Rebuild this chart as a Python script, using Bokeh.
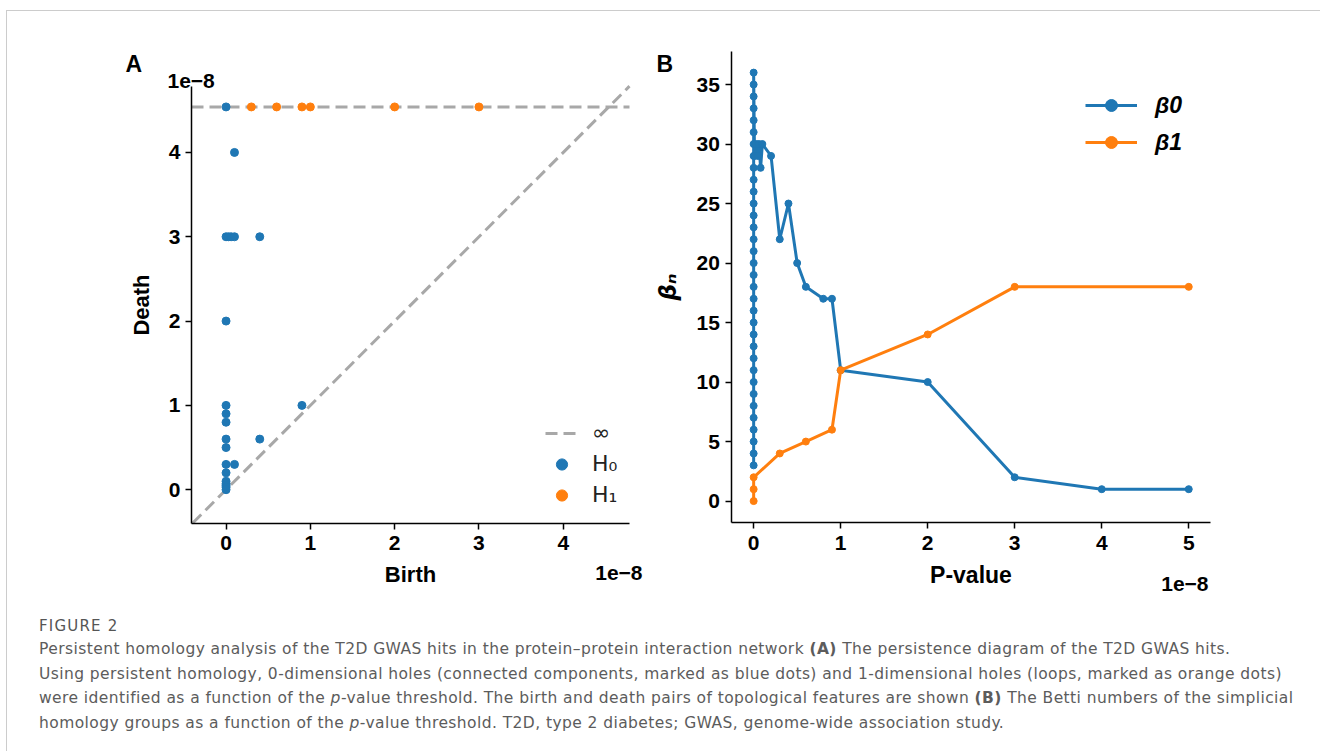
from bokeh.plotting import figure
from bokeh.models import Label, Legend, LegendItem, Div, FixedTicker, Range1d
from bokeh.layouts import row, column
from bokeh.embed import file_html
from bokeh.resources import INLINE

# ---------------- data (values in units of 1e-8) ----------------
INF = float("inf")
# Panel A: persistence diagram
h0_birth = [0.0, 0.1, 0.0, 0.03, 0.06, 0.1, 0.4, 0.0, 0.0, 0.0, 0.0, 0.0, 0.0,
            0.1, 0.0, 0.0, 0.0, 0.4, 0.9, 0.0, 0.0, 0.0, 0.0]
h0_death = [INF, 4.0, 3.0, 3.0, 3.0, 3.0, 3.0, 2.0, 1.0, 0.9, 0.8, 0.6, 0.5,
            0.3, 0.3, 0.2, 0.1, 0.6, 1.0, 0.07, 0.05, 0.03, 0.0]
h1_birth = [0.3, 0.6, 0.9, 1.0, 2.0, 3.0]
h1_death = [INF, INF, INF, INF, INF, INF]
inf_level = 4.54
a_xlim = (-0.41, 4.786)
a_ylim = (-0.395, 4.787)
a_ticks = [0, 1, 2, 3, 4]
a_tick_labels = ["0", "1", "2", "3", "4"]

# Panel B: Betti numbers vs p-value threshold
b0_p = [0.0, 0.0, 0.0, 0.0, 0.0, 0.0, 0.0, 0.0, 0.0, 0.0, 0.0, 0.0, 0.0, 0.0,
        0.0, 0.0, 0.0, 0.0, 0.0, 0.0, 0.0, 0.0, 0.0, 0.0, 0.0, 0.0, 0.0, 0.0,
        0.0, 0.0, 0.0, 0.0, 0.0, 0.0,
        0.01, 0.03, 0.05, 0.06, 0.08, 0.1, 0.2, 0.3, 0.4, 0.5, 0.6, 0.8, 0.9,
        1.0, 2.0, 3.0, 4.0, 5.0]
b0_val = [3, 4, 5, 6, 7, 8, 9, 10, 11, 12, 13, 14, 15, 16, 17, 18, 19, 20, 21,
          22, 23, 24, 25, 26, 27, 28, 29, 30, 31, 32, 33, 34, 35, 36,
          29, 30, 29, 30, 28, 30, 29, 22, 25, 20, 18, 17, 17,
          11, 10, 2, 1, 1]
b1_p = [0.0, 0.0, 0.0, 0.3, 0.6, 0.9, 1.0, 2.0, 3.0, 5.0]
b1_val = [0, 1, 2, 4, 5, 6, 11, 14, 18, 18]
b_xlim = (-0.25, 5.25)
b_ylim = (-1.8, 37.8)
b_xticks = [0, 1, 2, 3, 4, 5]
b_xtick_labels = ["0", "1", "2", "3", "4", "5"]
b_yticks = [0, 5, 10, 15, 20, 25, 30, 35]
b_ytick_labels = ["0", "5", "10", "15", "20", "25", "30", "35"]

caption_title = "FIGURE 2"
caption_lines = [
    "Persistent homology analysis of the T2D GWAS hits in the protein\u2013protein interaction network <b>(A)</b> The persistence diagram of the T2D GWAS hits.",
    "Using persistent homology, 0-dimensional holes (connected components, marked as blue dots) and 1-dimensional holes (loops, marked as orange dots)",
    "were identified as a function of the <i>p</i>-value threshold. The birth and death pairs of topological features are shown <b>(B)</b> The Betti numbers of the simplicial",
    "homology groups as a function of the <i>p</i>-value threshold. T2D, type 2 diabetes; GWAS, genome-wide association study.",
]

BLUE = "#1f77b4"
ORANGE = "#ff7f0e"
GREY = "#a8a8a8"
FONT = "Liberation Sans"

# ---------------- layout geometry (page pixels) ----------------
ORIGIN_X, ORIGIN_Y = 7, 11          # after 6/10 px margin and 1 px border
FIG_H = 590
WA, WB = 648, 665
A_LEFT, B_LEFT = ORIGIN_X, ORIGIN_X + WA
TOP, BOTTOM = ORIGIN_Y, ORIGIN_Y + FIG_H
# where the axis limits sit on the page
A_PX = (191.0, 629.0)
A_PY = (522.5, 85.6)
B_PX = (731.4, 1210.0)
B_PY = (522.0, 50.7)


def full_range(lim, plim, fig0, fig1):
    """Range that puts data lim[0], lim[1] at pixel plim[0], plim[1] when the
    frame spans pixels fig0..fig1 (pixels increasing with data)."""
    s = (lim[1] - lim[0]) / (plim[1] - plim[0])
    return Range1d(lim[0] + (fig0 - plim[0]) * s, lim[0] + (fig1 - plim[0]) * s)


def style(p, xlim, ylim, tick_size, label_size):
    p.xaxis.fixed_location = ylim[0]
    p.yaxis.fixed_location = xlim[0]
    p.xaxis.bounds = xlim
    p.yaxis.bounds = ylim
    for ax in (p.xaxis[0], p.yaxis[0]):
        ax.axis_line_color = "black"
        ax.axis_line_width = 1.5
        ax.major_tick_line_color = "black"
        ax.major_tick_line_width = 1.5
        ax.major_tick_out = 6
        ax.major_tick_in = 0
        ax.minor_tick_line_color = None
        ax.major_label_text_font = FONT
        ax.major_label_text_font_style = "bold"
        ax.major_label_text_font_size = tick_size
        ax.major_label_text_color = "black"
        ax.major_label_standoff = 7
        ax.axis_label_text_font = FONT
        ax.axis_label_text_font_style = "bold"
        ax.axis_label_text_font_size = label_size
        ax.axis_label_text_color = "black"
        ax.axis_label_standoff = 9
    p.xgrid.visible = False
    p.ygrid.visible = False
    p.outline_line_color = None
    p.background_fill_color = "white"
    p.border_fill_color = "white"


def make_fig(width, left, xlim, px, ylim, py):
    xr = full_range(xlim, px, left, left + width)
    yr = full_range(ylim, (-py[0], -py[1]), -BOTTOM, -TOP)
    return figure(width=width, height=FIG_H, x_range=xr, y_range=yr,
                  min_border_left=0, min_border_right=0, min_border_top=0,
                  min_border_bottom=0, output_backend="svg",
                  toolbar_location=None, title=None)


def text_label(p, fig_left, page_x, page_y, text, size, align="left"):
    p.add_layout(Label(x=page_x - fig_left, y=BOTTOM - page_y,
                       x_units="screen", y_units="screen", text=text,
                       text_align=align, text_baseline="alphabetic",
                       text_font=FONT, text_font_style="bold",
                       text_font_size=size, text_color="black"))


# ---------------- Panel A ----------------
pa = make_fig(WA, A_LEFT, a_xlim, A_PX, a_ylim, A_PY)
style(pa, a_xlim, a_ylim, "21px", "22px")
pa.xaxis.ticker = FixedTicker(ticks=a_ticks)
pa.yaxis.ticker = FixedTicker(ticks=a_ticks)
pa.xaxis.major_label_overrides = dict(zip(a_ticks, a_tick_labels))
pa.yaxis.major_label_overrides = dict(zip(a_ticks, a_tick_labels))
pa.xaxis.axis_label = "Birth"
pa.yaxis.axis_label = "Death"
pa.yaxis.major_label_standoff = 5
pa.yaxis.axis_label_standoff = 12
pa.xaxis.axis_label_standoff = 8

d_lo = max(a_xlim[0], a_ylim[0])
d_hi = min(a_xlim[1], a_ylim[1])
pa.line([d_lo, d_hi], [d_lo, d_hi], line_color=GREY, line_width=3, line_dash="12 6")
inf_line = pa.line(list(a_xlim), [inf_level, inf_level], line_color=GREY,
                   line_width=3, line_dash="12 6")
h0_y = [inf_level if d == INF else d for d in h0_death]
h1_y = [inf_level if d == INF else d for d in h1_death]
r_h0 = pa.scatter(h0_birth, h0_y, size=8, fill_color=BLUE, line_color=BLUE)
r_h1 = pa.scatter(h1_birth, h1_y, size=8, fill_color=ORANGE, line_color=ORANGE)

leg_a = Legend(items=[LegendItem(label="\u221e", renderers=[inf_line]),
                      LegendItem(label="H\u2080", renderers=[r_h0]),
                      LegendItem(label="H\u2081", renderers=[r_h1])],
               location=(545 - A_LEFT, BOTTOM - 508.5), padding=0, margin=0,
               spacing=3, glyph_width=33, glyph_height=28, label_height=28,
               label_standoff=14, label_text_font="DejaVu Sans",
               label_text_font_size="22px", label_text_color="#222222",
               background_fill_alpha=0, border_line_alpha=0)
pa.add_layout(leg_a)

text_label(pa, A_LEFT, 125, 63, "A", "23px")
text_label(pa, A_LEFT, 167, 80, "1e\u22128", "21px")
text_label(pa, A_LEFT, 642, 572, "1e\u22128", "21px", align="right")

# ---------------- Panel B ----------------
pb = make_fig(WB, B_LEFT, b_xlim, B_PX, b_ylim, B_PY)
style(pb, b_xlim, b_ylim, "21px", "23px")
pb.xaxis.ticker = FixedTicker(ticks=b_xticks)
pb.yaxis.ticker = FixedTicker(ticks=b_yticks)
pb.xaxis.major_label_overrides = dict(zip(b_xticks, b_xtick_labels))
pb.yaxis.major_label_overrides = dict(zip(b_yticks, b_ytick_labels))
pb.xaxis.axis_label = "P-value"
pb.yaxis.axis_label = "\u03b2\u2099"
pb.yaxis.axis_label_text_font = "DejaVu Sans"
pb.yaxis.axis_label_text_font_style = "bold italic"
pb.yaxis.axis_label_standoff = 12
pb.yaxis.major_label_standoff = 6

l0 = pb.line(b0_p, b0_val, line_color=BLUE, line_width=3)
s0 = pb.scatter(b0_p, b0_val, size=7, fill_color=BLUE, line_color=BLUE)
l1 = pb.line(b1_p, b1_val, line_color=ORANGE, line_width=3)
s1 = pb.scatter(b1_p, b1_val, size=7, fill_color=ORANGE, line_color=ORANGE)

leg_b = Legend(items=[LegendItem(label="\u03b20", renderers=[l0, s0]),
                      LegendItem(label="\u03b21", renderers=[l1, s1])],
               location=(1085 - B_LEFT, BOTTOM - 157), padding=0, margin=0,
               spacing=7, glyph_width=52, glyph_height=30, label_height=30,
               label_standoff=18, label_text_font=FONT,
               label_text_font_style="bold italic", label_text_font_size="23px",
               label_text_color="black",
               background_fill_alpha=0, border_line_alpha=0)
pb.add_layout(leg_b)

text_label(pb, B_LEFT, 656, 63, "B", "23px")
text_label(pb, B_LEFT, 1208, 583, "1e\u22128", "21px", align="right")

# ---------------- caption ----------------
cap_html = (
    '<div style="position:relative;width:1300px;height:140px;'
    'font-family:\'DejaVu Sans\',sans-serif;color:#5c5c5c;">'
    '<div style="position:absolute;left:27px;top:10px;font-size:15px;line-height:20px;'
    'letter-spacing:1.2px;color:#555555;white-space:nowrap;">' + caption_title + '</div>'
    '<div style="position:absolute;left:27px;top:31px;font-size:15.5px;line-height:24.6px;'
    'letter-spacing:0.42px;white-space:nowrap;">' + "<br>".join(caption_lines) + '</div></div>'
)
cap = Div(text=cap_html, width=1300, height=140)

layout = column(row(pa, pb), cap,
                styles={"margin-left": "6px", "margin-top": "10px",
                        "border-top": "1px solid #cccccc",
                        "border-left": "1px solid #cccccc"})

open("out.html", "w").write(file_html(layout, INLINE))
